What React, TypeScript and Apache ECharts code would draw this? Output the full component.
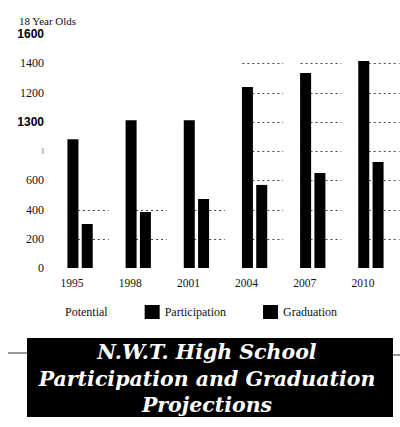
import React, { useEffect, useRef } from "react";
import * as echarts from "echarts";

const years = ["1995", "1998", "2001", "2004", "2007", "2010"];
const participation = [880, 1010, 1010, 1238, 1333, 1415];
const graduation = [301, 383, 472, 568, 650, 725];
const potential = [400, 400, 400, 1400, 1400, 1400];
const yTickValues = [0, 200, 400, 600, 800, 1000, 1200, 1400, 1600];
const yTickLabels = ["0", "200", "400", "600", "‖", "1300", "1200", "1400", "1600"];
const boldTicks = ["1600", "1300"];
const titleLines = ["N.W.T. High School", "Participation and Graduation", "Projections"];

const SERIF = '"Liberation Serif", "DejaVu Serif", serif';
const TITLE_FONT = '"DejaVu Serif", "Liberation Serif", serif';

export default function App() {
  const ref = useRef<HTMLDivElement>(null);
  useEffect(() => {
    if (!ref.current) return;
    const chart = echarts.init(ref.current, null, { renderer: "svg" });
    const option: any = {
      animation: false,
      backgroundColor: "#fff",
      title: {
        text: "18 Year Olds",
        left: 14,
        top: 10,
        textStyle: { fontFamily: SERIF, fontSize: 11, fontWeight: "normal", color: "#111" },
      },
      legend: {
        data: ["Potential", "Participation", "Graduation"],
        left: 45,
        top: 305,
        padding: 0,
        icon: "rect",
        itemWidth: 15,
        itemHeight: 14,
        itemGap: 37,
        textStyle: { fontFamily: SERIF, fontSize: 12, color: "#111" },
      },
      grid: { left: 51, right: -19, top: 34, bottom: 159 },
      xAxis: {
        type: "category",
        data: years,
        axisLine: { show: false },
        axisTick: { show: false },
        axisLabel: {
          margin: 9,
          padding: [0, 16, 0, 0],
          fontFamily: SERIF,
          fontSize: 11.5,
          color: "#111",
        },
      },
      yAxis: {
        type: "value",
        min: 0,
        max: 1600,
        interval: 200,
        axisLine: { show: false },
        axisTick: { show: false },
        splitLine: { show: false },
        axisLabel: {
          margin: 7,
          formatter: (v: number) => {
            const idx = yTickValues.indexOf(v);
            const t = idx >= 0 ? yTickLabels[idx] : String(v);
            if (boldTicks.includes(t)) return "{b|" + t + "}";
            if (t === "‖") return "{s|" + t + "}";
            return "{n|" + t + "}";
          },
          rich: {
            b: { fontFamily: '"Liberation Sans", Arial, sans-serif', fontWeight: "bold", fontSize: 12, color: "#000" },
            n: { fontFamily: SERIF, fontSize: 12, color: "#111" },
            s: { fontFamily: SERIF, fontSize: 9, color: "#777" },
          },
        },
      },
      series: [
        {
          name: "Potential",
          type: "custom",
          itemStyle: { color: "rgba(0,0,0,0)" },
          data: potential.map((v, i) => [i, v]),
          encode: { x: 0, y: 1 },
          renderItem: (params: any, api: any) => {
            const i = api.value(0);
            const v = api.value(1);
            const base = api.coord([i, 0]);
            const bw = api.size([1, 0])[0];
            const x1 = base[0] - 0.21 * bw;
            const x2 = base[0] + 0.49 * bw;
            const children: any[] = [];
            for (let k = 200; k <= v + 1; k += 200) {
              const y = Math.round(api.coord([i, k])[1]) + 0.5;
              children.push({
                type: "line",
                shape: { x1, y1: y, x2, y2: y },
                style: { stroke: "#444", lineWidth: 1, lineDash: [2, 3] },
              });
            }
            return { type: "group", children };
          },
          z: 1,
        },
        {
          name: "Participation",
          type: "bar",
          data: participation,
          barWidth: 11,
          barGap: "30%",
          itemStyle: { color: "#000" },
          z: 2,
        },
        {
          name: "Graduation",
          type: "bar",
          data: graduation,
          barWidth: 11,
          itemStyle: { color: "#000" },
          z: 2,
        },
      ],
      graphic: [
        { type: "line", shape: { x1: 8, y1: 353, x2: 28, y2: 353 }, style: { stroke: "#333", lineWidth: 1 } },
        { type: "line", shape: { x1: 392, y1: 355, x2: 400, y2: 355 }, style: { stroke: "#333", lineWidth: 1 } },
        { type: "rect", shape: { x: 27, y: 338, width: 366, height: 79 }, style: { fill: "#000" } },
        ...titleLines.map((t, i) => ({
          type: "text",
          x: 207,
          y: [352, 379, 405][i],
          style: {
            text: t,
            fill: "#fff",
            fontFamily: TITLE_FONT,
            fontSize: 20.5,
            fontWeight: "bold",
            fontStyle: "italic",
            textAlign: "center",
            textVerticalAlign: "middle",
            align: "center",
            verticalAlign: "middle",
          },
        })),
      ],
    };
    chart.setOption(option);
    return () => chart.dispose();
  }, []);
  return (
    <div style={{ position: "fixed", left: 0, top: 0, width: 400, height: 427, overflow: "hidden", background: "#fff" }}>
      <div ref={ref} style={{ width: 400, height: 427 }} />
    </div>
  );
}
